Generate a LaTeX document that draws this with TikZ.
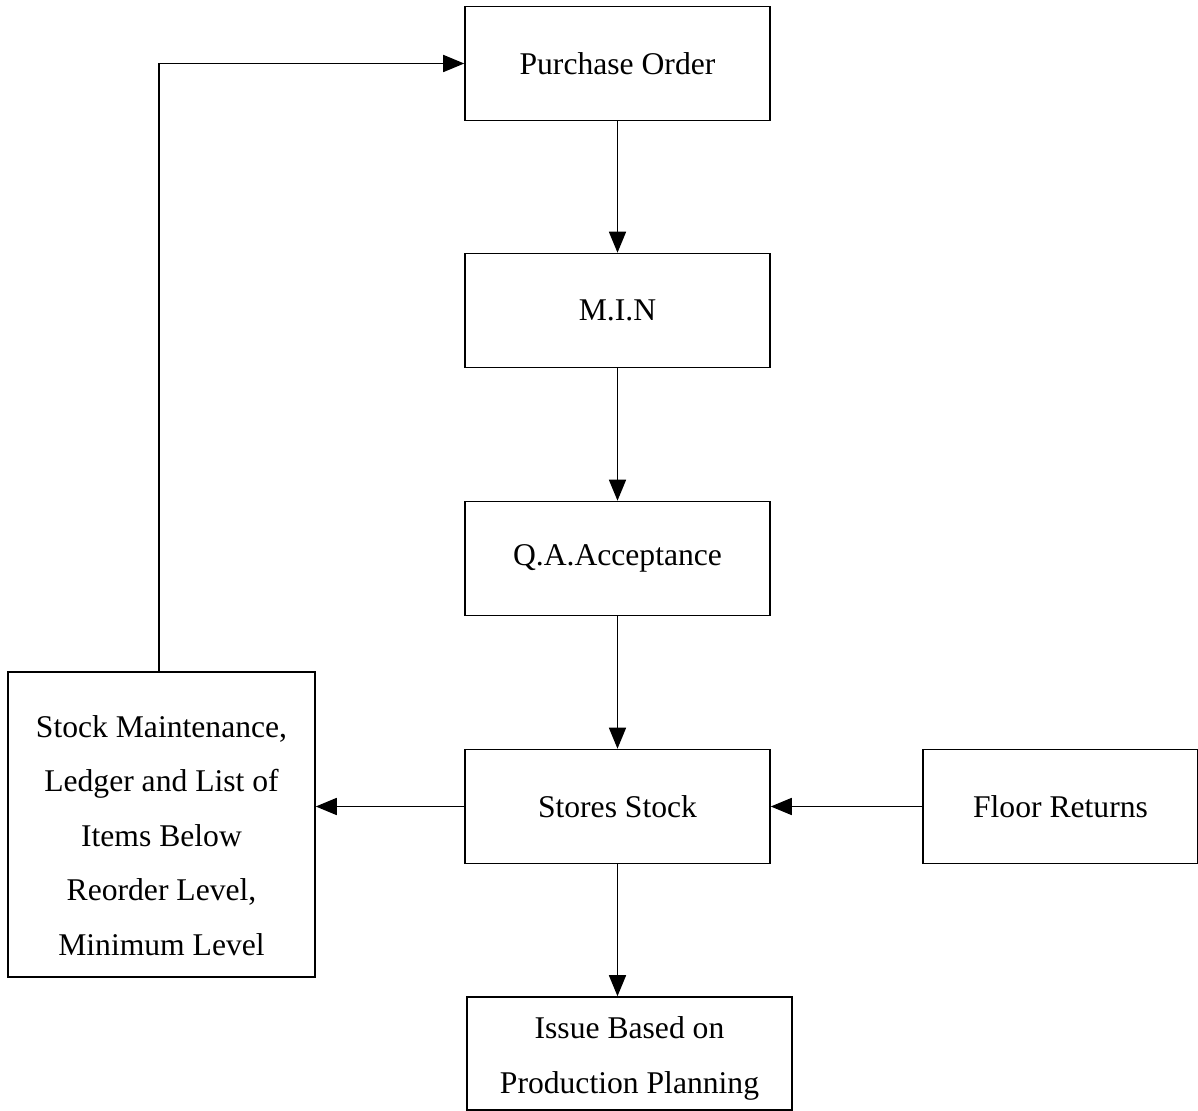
\documentclass[tikz,border=0pt]{standalone}
\usepackage{fontspec}
\setmainfont{Liberation Serif}
\usetikzlibrary{arrows.meta,positioning}

\begin{document}
\begin{tikzpicture}[x=0.02cm,y=-0.02cm,
  font=\fontsize{18}{31}\selectfont,
  box/.style={draw, line width=0.9pt, minimum width=6.1cm, minimum height=2.28cm, align=center, inner sep=0pt},
  flow/.style={line width=0.9pt, -{Triangle[length=0.42cm,width=0.34cm]}}]
\useasboundingbox (0,0) rectangle (1198,1111);
% main column
\node[box] (order) at (617.5,63.5) {Purchase Order};
\node[box] (min) at (617.5,310.5) {M.I.N};
\node[box] (qa) at (617.5,558.5) {Q.A.Acceptance};
\node[box] (stores) at (617.5,806.5) {Stores Stock};
\node[box, minimum width=6.5cm, minimum height=2.26cm] (issue) at (629.5,1053.5)
  {\raisebox{-0.1cm}[\height][\depth]{\parbox{6.4cm}{\centering Issue Based on\\Production Planning}}};
% side boxes
\node[box, minimum width=5.5cm] (returns) at (1060.5,806.5) {Floor Returns};
\node[box, minimum width=6.14cm, minimum height=6.1cm] (ledger) at (161.5,824.5)
  {\raisebox{-0.22cm}[\height][\depth]{\parbox{6cm}{\centering Stock Maintenance,\\Ledger and List of\\Items Below\\Reorder Level,\\Minimum Level}}};
% connectors
\draw[flow] (order) -- (min);
\draw[flow] (min) -- (qa);
\draw[flow] (qa) -- (stores);
\draw[flow] (stores) -- (issue.north -| stores.south);
\draw[flow] (returns) -- (stores);
\draw[flow] (stores) -- (ledger.east |- stores.west);
\draw[flow] ([xshift=-2.5*0.02cm]ledger.north) |- (order.west);
\end{tikzpicture}
\end{document}
